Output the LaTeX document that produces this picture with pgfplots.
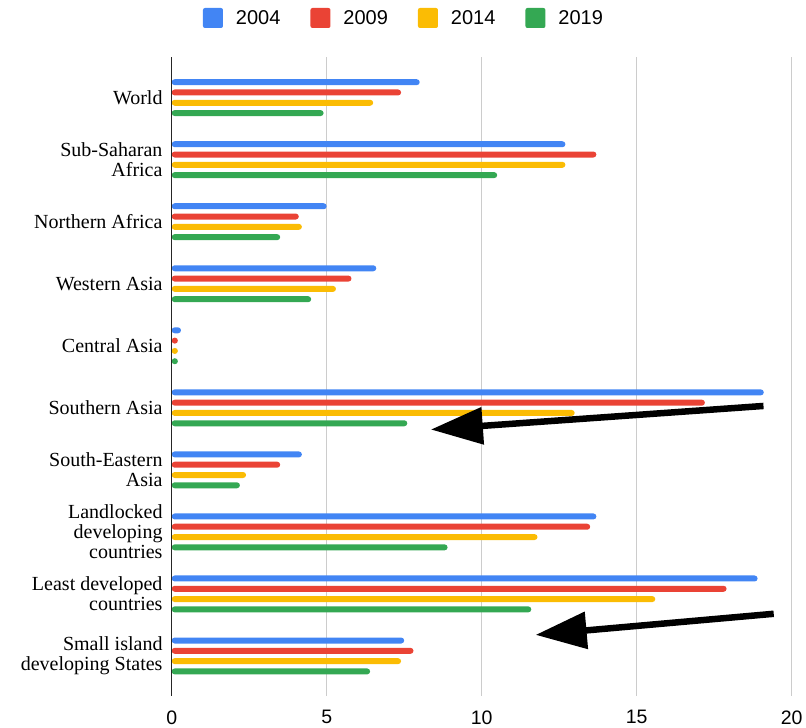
\documentclass[border=0pt]{standalone}
\usepackage{pgfplots}
\pgfplotsset{compat=1.18}
\usepackage{fontspec}
\setmainfont{Liberation Serif}
\newfontfamily\arialfont{Liberation Sans}
\usetikzlibrary{arrows.meta}

\definecolor{gblue}{HTML}{4285F4}
\definecolor{gred}{HTML}{EA4335}
\definecolor{gyellow}{HTML}{FBBC04}
\definecolor{ggreen}{HTML}{34A853}

\begin{document}
\begin{tikzpicture}
\useasboundingbox (-171.7pt,-31pt) rectangle (634.3pt,696.3pt);
\begin{axis}[
  scale only axis, width=620pt, height=639pt,
  xmin=0, xmax=20, ymin=-0.65, ymax=9.65, y dir=reverse,
  xbar, bar width=6pt,
  xtick={0,5,10,15,20}, ytick={0,1,...,9},
  yticklabels={World,{Sub-Saharan\\Africa},Northern Africa,Western Asia,Central Asia,Southern Asia,{South-Eastern\\Asia},{Landlocked\\developing\\countries},{Least developed\\countries},{Small island\\developing States}},
  yticklabel style={align=right, font=\fontsize{20}{20}\selectfont, inner sep=0pt, xshift=-9pt},
  xticklabel style={font=\arialfont\fontsize{19.5}{20}\selectfont, inner sep=0pt, yshift=-14pt},
  /pgf/number format/assume math mode=true,
  major tick length=0pt,
  axis line style={draw=none},
  xmajorgrids, major grid style={color=black!20, line width=1pt},
  clip=false,
  legend columns=4,
  legend style={draw=none, fill=none, at={(axis description cs:0.373,1.0615)}, anchor=center,
    font=\arialfont\fontsize{20}{20}\selectfont, nodes={inner sep=0pt},
    /tikz/every odd column/.append style={column sep=13pt},
    /tikz/every even column/.append style={column sep=30pt}},
  legend image code/.code={\fill[#1, rounded corners=2pt] (0pt,-10pt) rectangle (20pt,10pt);},
]
% 2004
\addplot[fill=gblue, draw=none, bar shift=15.45pt, rounded corners=3pt] coordinates {
  (8.0,0) (12.7,1) (5.0,2) (6.6,3) (0.3,4) (19.1,5) (4.2,6) (13.7,7) (18.9,8) (7.5,9)};
% 2009
\addplot[fill=gred, draw=none, bar shift=5.15pt, rounded corners=3pt] coordinates {
  (7.4,0) (13.7,1) (4.1,2) (5.8,3) (0.2,4) (17.2,5) (3.5,6) (13.5,7) (17.9,8) (7.8,9)};
% 2014
\addplot[fill=gyellow, draw=none, bar shift=-5.15pt, rounded corners=3pt] coordinates {
  (6.5,0) (12.7,1) (4.2,2) (5.3,3) (0.2,4) (13.0,5) (2.4,6) (11.8,7) (15.6,8) (7.4,9)};
% 2019
\addplot[fill=ggreen, draw=none, bar shift=-15.45pt, rounded corners=3pt] coordinates {
  (4.9,0) (10.5,1) (3.5,2) (4.5,3) (0.2,4) (7.6,5) (2.2,6) (8.9,7) (11.6,8) (6.4,9)};
\legend{2004,2009,2014,2019}
% vertical axis line
\draw[black!85, line width=1.2pt] (axis cs:0,-0.65) -- (axis cs:0,9.65);
% annotation arrows
\draw[line width=6.5pt, -{Triangle[length=52pt,width=36pt]}] (axis cs:19.09,4.97) -- (axis cs:8.36,5.35);
\draw[line width=6.5pt, -{Triangle[length=51pt,width=36pt]}] (axis cs:19.42,8.32) -- (axis cs:11.74,8.66);
\end{axis}
\end{tikzpicture}
\end{document}
